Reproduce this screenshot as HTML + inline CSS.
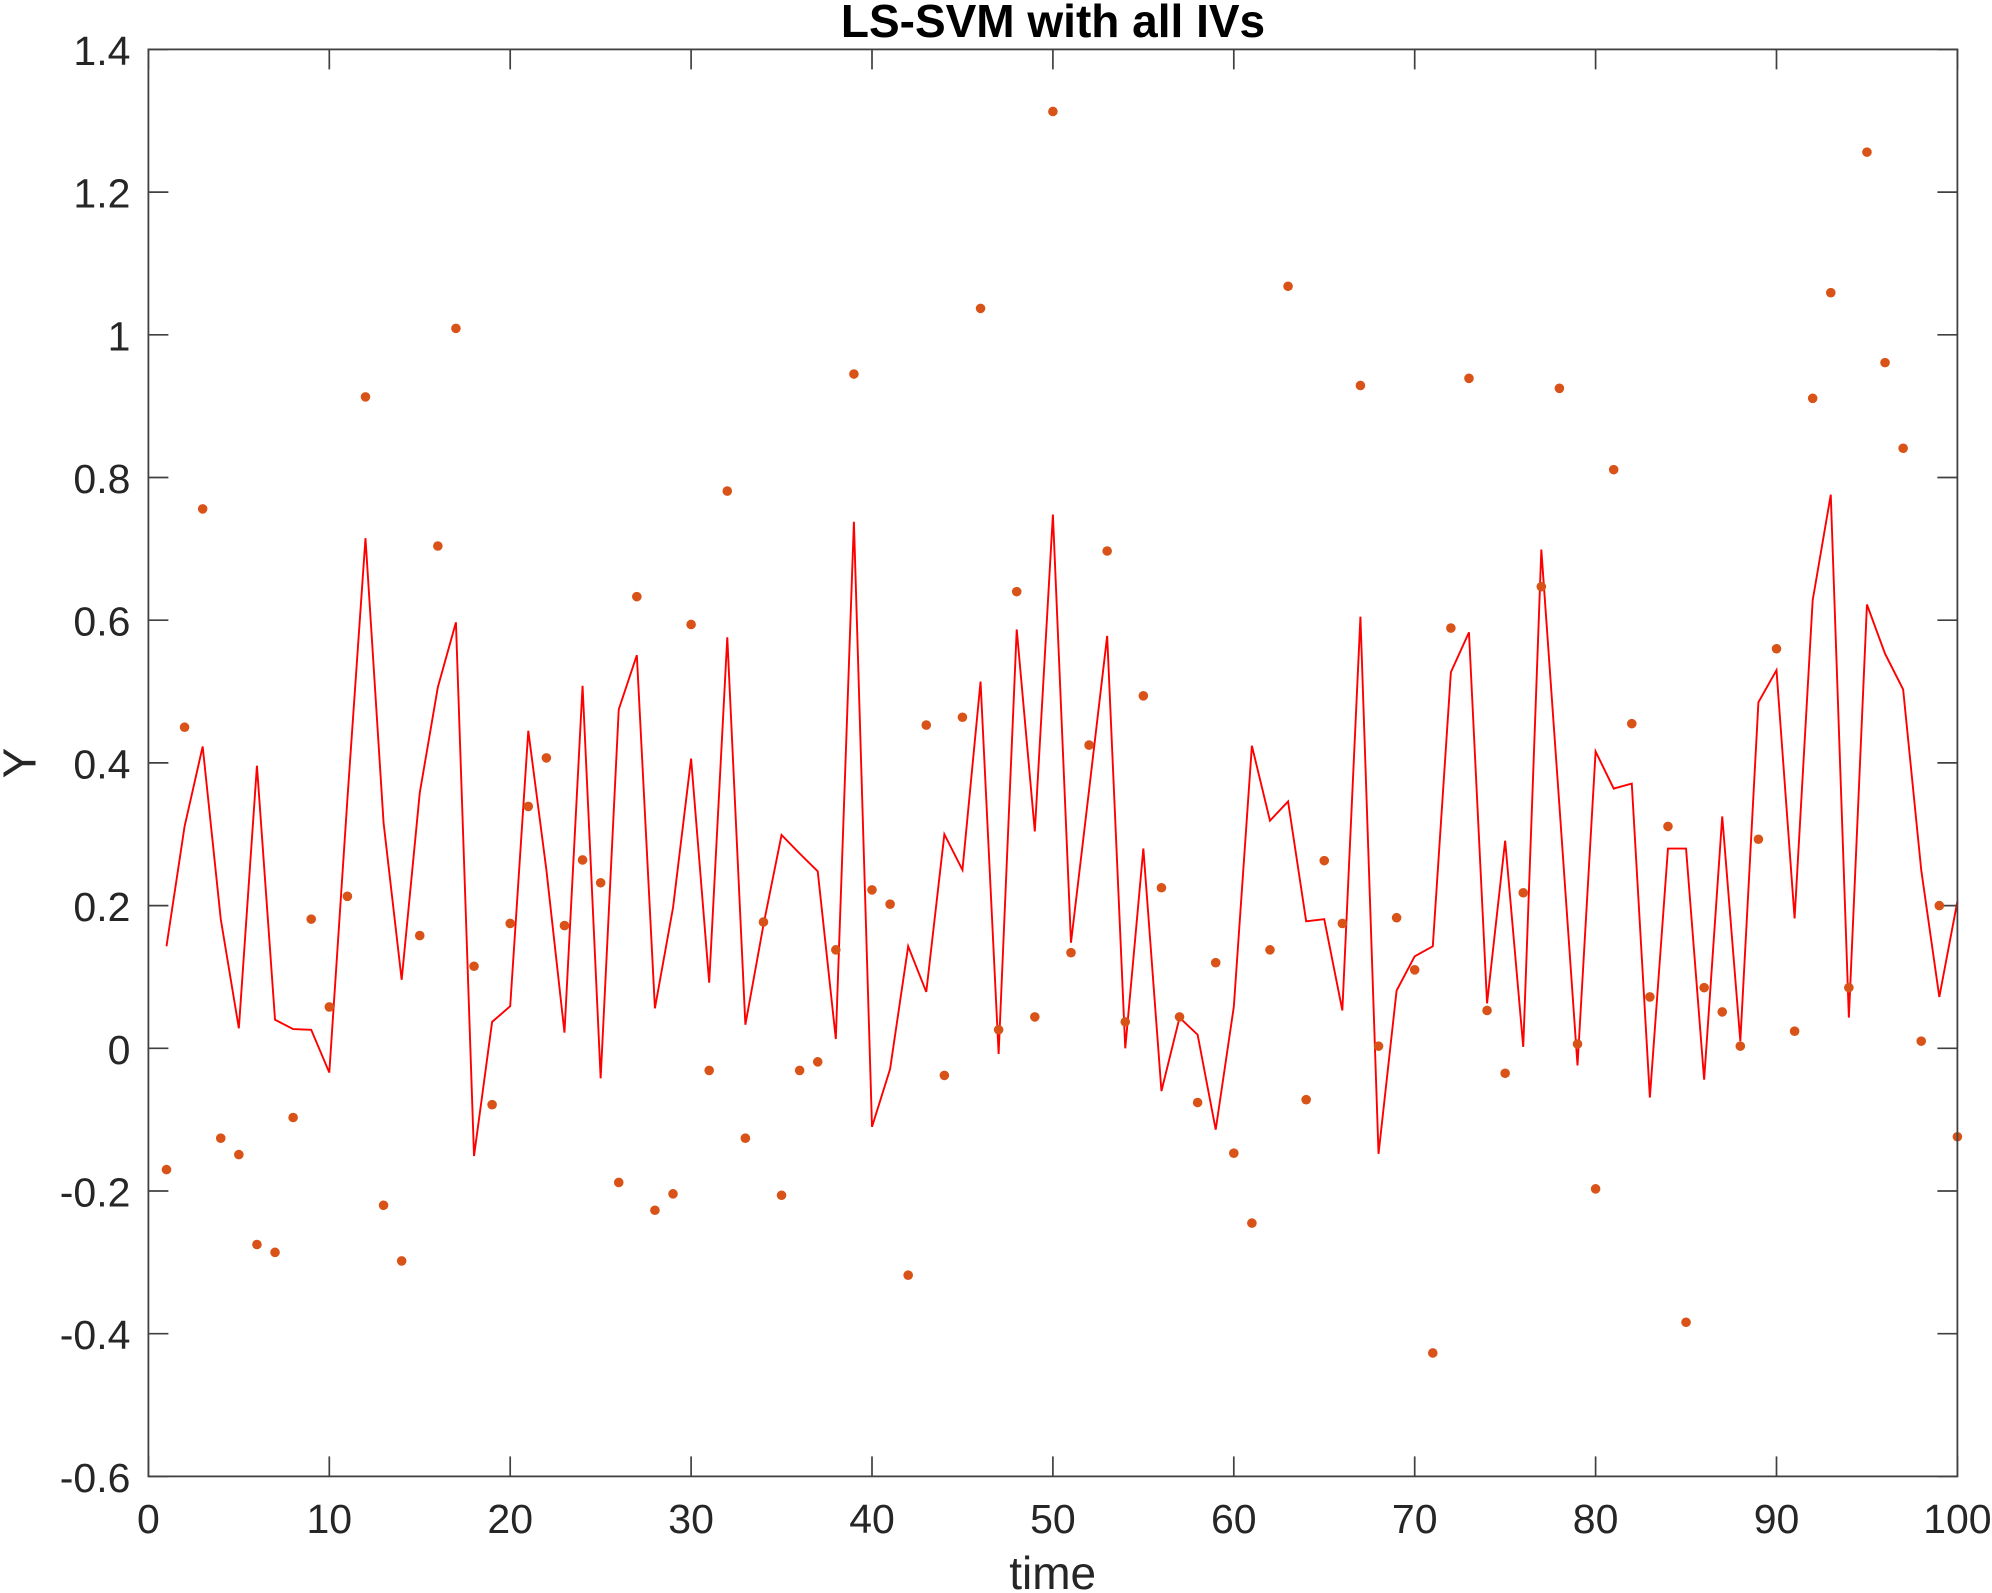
<!DOCTYPE html>
<html lang="en">
<head>
<meta charset="utf-8">
<title>LS-SVM with all IVs</title>
<style>
html,body{margin:0;padding:0;background:#fff;width:1992px;height:1593px;overflow:hidden}
svg{display:block;font-family:"Liberation Sans",Arial,sans-serif}
</style>
</head>
<body>
<svg id="chart" xmlns="http://www.w3.org/2000/svg" width="1992" height="1593" viewBox="0 0 1992 1593">
<rect x="0" y="0" width="1992" height="1593" fill="#ffffff"/>
<text x="1053" y="37" text-anchor="middle" font-size="46" font-weight="bold" fill="#000000">LS-SVM with all IVs</text>
<text x="1052.7" y="1589" text-anchor="middle" font-size="46" fill="#262626">time</text>
<text transform="translate(35.5 763) rotate(-90)" text-anchor="middle" font-size="46" fill="#262626">Y</text>
<g id="ticks"></g>
<g id="tick-labels"></g>
<polyline id="prediction-line" fill="none" stroke="#ff0000" stroke-width="1.9" stroke-linejoin="miter"/>
<g id="points"></g>
<rect id="frame" fill="none" stroke="#404040" stroke-width="1.8"/>
</svg>
<script>
const xTickValues = [0,10,20,30,40,50,60,70,80,90,100];
const xTickLabels = ['0','10','20','30','40','50','60','70','80','90','100'];
const yTickValues = [-0.6,-0.4,-0.2,0,0.2,0.4,0.6,0.8,1,1.2,1.4];
const yTickLabels = ['-0.6','-0.4','-0.2','0','0.2','0.4','0.6','0.8','1','1.2','1.4'];
const timeValues = [1,2,3,4,5,6,7,8,9,10,11,12,13,14,15,16,17,18,19,20,21,22,23,24,25,26,27,28,29,30,31,32,33,34,35,36,37,38,39,40,41,42,43,44,45,46,47,48,49,50,51,52,53,54,55,56,57,58,59,60,61,62,63,64,65,66,67,68,69,70,71,72,73,74,75,76,77,78,79,80,81,82,83,84,85,86,87,88,89,90,91,92,93,94,95,96,97,98,99,100];
const observedY = [-0.170,0.450,0.756,-0.126,-0.149,-0.275,-0.286,-0.097,0.181,0.058,0.213,0.913,-0.220,-0.298,0.158,0.704,1.009,0.115,-0.079,0.175,0.339,0.407,0.172,0.264,0.232,-0.188,0.633,-0.227,-0.204,0.594,-0.031,0.781,-0.126,0.177,-0.206,-0.031,-0.019,0.138,0.945,0.222,0.202,-0.318,0.453,-0.038,0.464,1.037,0.026,0.640,0.044,1.313,0.134,0.425,0.697,0.037,0.494,0.225,0.044,-0.076,0.120,-0.147,-0.245,0.138,1.068,-0.072,0.263,0.175,0.929,0.003,0.183,0.110,-0.427,0.589,0.939,0.053,-0.035,0.218,0.647,0.925,0.006,-0.197,0.811,0.455,0.072,0.311,-0.384,0.085,0.051,0.003,0.293,0.560,0.024,0.911,1.059,0.085,1.256,0.961,0.841,0.010,0.200,-0.124];
const predictedY = [0.143,0.311,0.423,0.181,0.028,0.396,0.040,0.027,0.026,-0.034,0.349,0.715,0.316,0.096,0.358,0.506,0.597,-0.151,0.037,0.059,0.445,0.250,0.022,0.508,-0.042,0.475,0.551,0.056,0.197,0.406,0.092,0.576,0.033,0.173,0.299,0.273,0.248,0.013,0.738,-0.110,-0.029,0.143,0.079,0.300,0.250,0.514,-0.008,0.587,0.304,0.748,0.148,0.362,0.578,0.000,0.280,-0.060,0.043,0.019,-0.114,0.058,0.424,0.319,0.346,0.178,0.181,0.053,0.605,-0.148,0.081,0.129,0.143,0.527,0.583,0.063,0.291,0.002,0.699,0.340,-0.024,0.416,0.364,0.371,-0.069,0.280,0.280,-0.044,0.325,0.010,0.485,0.530,0.182,0.628,0.776,0.043,0.622,0.553,0.503,0.250,0.072,0.206];

const SVG_NS = 'http://www.w3.org/2000/svg';
const plot = { left: 148.4, right: 1957.4, top: 49.4, bottom: 1476.4 };
const domainX = [0, 100];
const domainY = [-0.6, 1.4];
const tickLength = 20;

function xScale(v) {
  return plot.left + (v - domainX[0]) / (domainX[1] - domainX[0]) * (plot.right - plot.left);
}
function yScale(v) {
  return plot.bottom - (v - domainY[0]) / (domainY[1] - domainY[0]) * (plot.bottom - plot.top);
}

const frame = document.getElementById('frame');
frame.setAttribute('x', plot.left);
frame.setAttribute('y', plot.top);
frame.setAttribute('width', plot.right - plot.left);
frame.setAttribute('height', plot.bottom - plot.top);

const tickGroup = document.getElementById('ticks');
const labelGroup = document.getElementById('tick-labels');

function addTick(x1, y1, x2, y2) {
  const tick = document.createElementNS(SVG_NS, 'line');
  
  
  tick.setAttribute('x1', x1);
  tick.setAttribute('y1', y1);
  tick.setAttribute('x2', x2);
  tick.setAttribute('y2', y2);
  tick.setAttribute('stroke', '#404040');
  tick.setAttribute('stroke-width', '1.7');
  tickGroup.appendChild(tick);
}

xTickValues.forEach(function (value, i) {
  const x = xScale(value);
  addTick(x, plot.bottom, x, plot.bottom - tickLength);
  addTick(x, plot.top, x, plot.top + tickLength);
  const label = document.createElementNS(SVG_NS, 'text');
  
  
  label.setAttribute('x', x);
  label.setAttribute('y', plot.bottom + 56.6);
  label.setAttribute('text-anchor', 'middle');
  label.setAttribute('font-size', '41');
  label.setAttribute('fill', '#262626');
  label.textContent = xTickLabels[i];
  labelGroup.appendChild(label);
});

yTickValues.forEach(function (value, i) {
  const y = yScale(value);
  addTick(plot.left, y, plot.left + tickLength, y);
  addTick(plot.right, y, plot.right - tickLength, y);
  const label = document.createElementNS(SVG_NS, 'text');
  
  
  label.setAttribute('x', plot.left - 18);
  label.setAttribute('y', y + 15.5);
  label.setAttribute('text-anchor', 'end');
  label.setAttribute('font-size', '41');
  label.setAttribute('fill', '#262626');
  label.textContent = yTickLabels[i];
  labelGroup.appendChild(label);
});

document.getElementById('prediction-line').setAttribute('points', timeValues.map(function (t, i) {
  return xScale(t).toFixed(2) + ',' + yScale(predictedY[i]).toFixed(2);
}).join(' '));

const pointGroup = document.getElementById('points');
timeValues.forEach(function (t, i) {
  const point = document.createElementNS(SVG_NS, 'circle');
  
  
  point.setAttribute('cx', xScale(t).toFixed(2));
  point.setAttribute('cy', yScale(observedY[i]).toFixed(2));
  point.setAttribute('r', '4.8');
  point.setAttribute('fill', '#d95319');
  pointGroup.appendChild(point);
});
</script>
</body>
</html>
